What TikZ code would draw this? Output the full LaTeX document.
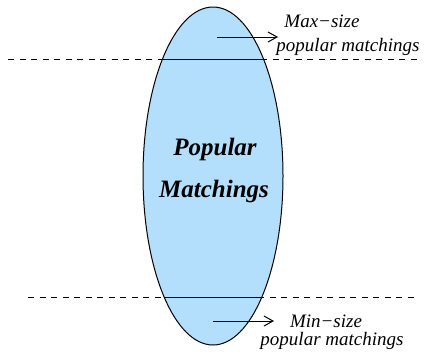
\documentclass[tikz,border=0pt]{standalone}
\usepackage{fontspec}
\setmainfont{Liberation Serif}[ItalicFont={Liberation Serif Italic},BoldFont={Liberation Serif Bold},BoldItalicFont={Liberation Serif Bold Italic}]
\usetikzlibrary{shapes.geometric,arrows.meta}
\definecolor{ellfill}{RGB}{179,222,252}
\tikzset{
  region/.style={ellipse,draw=black,line width=1pt,fill=ellfill,minimum width=140pt,minimum height=338pt,inner sep=0pt},
  cutline/.style={dashed,dash pattern=on 6pt off 5.5pt,line width=0.8pt},
  chord/.style={line width=1pt},
  pointer/.style={line width=1pt,-{Straight Barb[length=9pt,width=10pt,line width=1pt]}},
  lab/.style={font=\fontsize{19}{21}\selectfont\itshape,inner sep=0pt,anchor=base},
  title/.style={font=\fontsize{25}{27}\selectfont\bfseries\itshape,inner sep=0pt,anchor=base}
}
\begin{document}
\begin{tikzpicture}[x=1pt,y=-1pt]
\useasboundingbox (0,0) rectangle (427,351);
% dashed cut lines
\coordinate (tl) at (8,59);
\coordinate (tr) at (419,59);
\coordinate (bl) at (28,297);
\coordinate (br) at (414,297);
\draw[cutline] (tl) -- (tr);
\draw[cutline] (bl) -- (br);
% ellipse
\node[region] (E) at (213,176) {};
% solid chords
\coordinate (c1l) at (162.5,59);
\coordinate (c1r) at (263.5,59);
\coordinate (c2l) at (164,297);
\coordinate (c2r) at (262,297);
\draw[chord] (c1l) -- (c1r);
\draw[chord] (c2l) -- (c2r);
% centre text
\node[title] (t1) at (215,155) {Popular};
\node[title] (t2) at (214,197) {Matchings};
% labels
\node[lab] (maxs) at (322,27) {Max−size};
\node[lab] (maxp) at (348,51) {popular matchings};
\node[lab] (mins) at (326,327) {Min−size};
\node[lab] (minp) at (332,345) {popular matchings};
% arrows
\coordinate (a1s) at (217,37);
\coordinate (a1e) at (278,37);
\coordinate (a2s) at (213,321);
\coordinate (a2e) at (274,321);
\draw[pointer] (a1s) -- (a1e);
\draw[pointer] (a2s) -- (a2e);
\end{tikzpicture}
\end{document}
